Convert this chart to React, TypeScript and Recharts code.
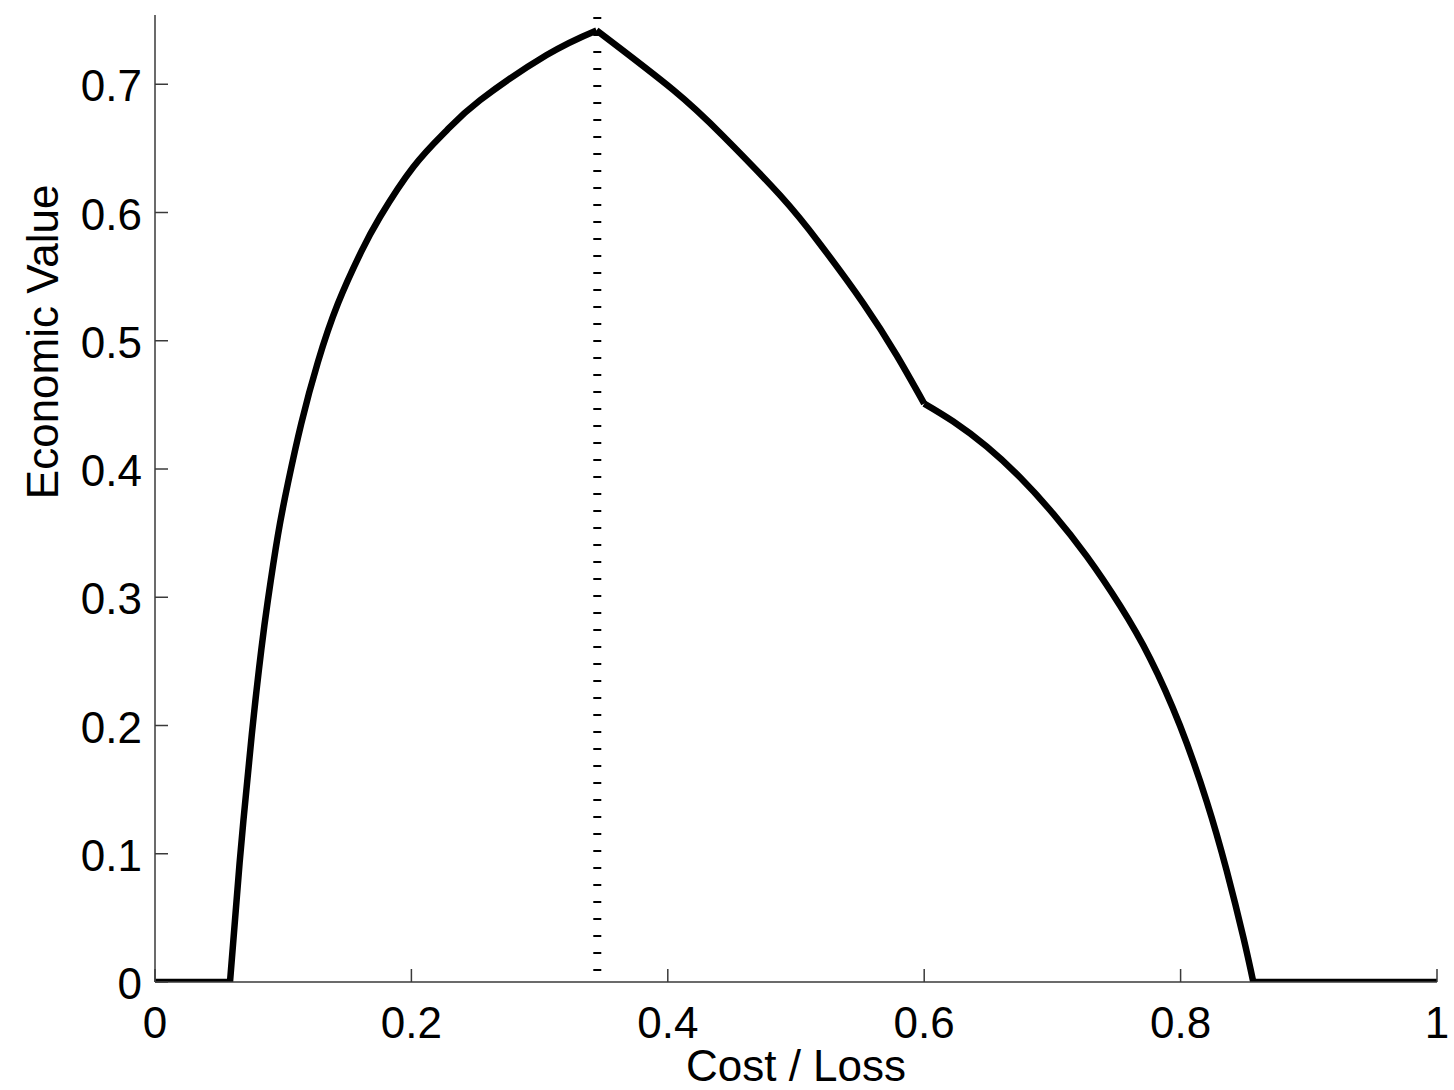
import React from 'react';
import { LineChart, Line, XAxis, YAxis, ReferenceLine } from 'recharts';

// Cost/Loss ratio (x) and economic value (y)
const zeroLeftX = [0, 0.0585];
const zeroLeftV = [0, 0];

const riseX = [0.0585, 0.066, 0.0755, 0.0829, 0.0881, 0.0959, 0.1037, 0.1141, 0.1271, 0.1427, 0.1609, 0.1755, 0.2015, 0.2275, 0.2535, 0.3055, 0.3444];
const riseV = [0, 0.093, 0.193, 0.259, 0.298, 0.3485, 0.389, 0.4355, 0.4835, 0.529, 0.5695, 0.5965, 0.6355, 0.664, 0.6875, 0.7228, 0.742];

const fallX = [0.3444, 0.4043, 0.4433, 0.4875, 0.5187, 0.5525, 0.5786, 0.6];
const fallV = [0.742, 0.6955, 0.6595, 0.6135, 0.5755, 0.5292, 0.4885, 0.451];

const tailX = [0.6, 0.6227, 0.6487, 0.6747, 0.7007, 0.7267, 0.7527, 0.7761, 0.7995, 0.8203, 0.8359, 0.8489, 0.8567];
const tailV = [0.451, 0.437, 0.4175, 0.3935, 0.365, 0.332, 0.2935, 0.2525, 0.2, 0.141, 0.087, 0.035, 0];

const zeroRightX = [0.8567, 1];
const zeroRightV = [0, 0];

const climateFrequency = 0.345;

const xTicks = [0, 0.2, 0.4, 0.6, 0.8, 1];
const yTicks = [0, 0.1, 0.2, 0.3, 0.4, 0.5, 0.6, 0.7];
const yMax = 0.754;

const toRows = (xs: number[], vs: number[]) => xs.map((x, i) => ({ x, v: vs[i] }));

const FONT = '"Liberation Sans", Arial, Helvetica, sans-serif';
const AXIS_COLOR = '#3a3a3a';

const XTick = (props: any) => {
  const { x, y, payload } = props;
  return (
    <g>
      <line x1={x} x2={x} y1={y} y2={y - 13} stroke={AXIS_COLOR} strokeWidth={1.5} />
      <text x={x} y={y + 56} textAnchor="middle" fontSize={44} fontFamily={FONT} fill="#000">
        {String(payload.value)}
      </text>
    </g>
  );
};

const YTick = (props: any) => {
  const { x, y, payload } = props;
  return (
    <g>
      <line x1={x} x2={x + 13} y1={y} y2={y} stroke={AXIS_COLOR} strokeWidth={1.5} />
      <text x={x - 13} y={y + 17} textAnchor="end" fontSize={44} fontFamily={FONT} fill="#000">
        {String(payload.value)}
      </text>
    </g>
  );
};

const YLabel = (props: any) => {
  const vb = props.viewBox || { x: 0, y: 15, width: 155, height: 967 };
  const cx = vb.x + 58;
  const cy = vb.y + vb.height * 0.338;
  return (
    <text
      x={cx}
      y={cy}
      transform={`rotate(-90, ${cx}, ${cy})`}
      textAnchor="middle"
      fontSize={44}
      fontFamily={FONT}
      fill="#000"
    >
      Economic Value
    </text>
  );
};

const XLabel = (props: any) => {
  const vb = props.viewBox || { x: 155, y: 982, width: 1282, height: 108 };
  return (
    <text
      x={vb.x + vb.width / 2}
      y={vb.y + 99}
      textAnchor="middle"
      fontSize={44}
      fontFamily={FONT}
      fill="#000"
    >
      Cost / Loss
    </text>
  );
};

export default function App() {
  const lineProps = {
    dataKey: 'v',
    stroke: '#000',
    strokeWidth: 6.5,
    dot: false,
    activeDot: false,
    isAnimationActive: false,
    strokeLinejoin: 'miter' as const,
  };
  return (
    <div style={{ position: 'absolute', left: 0, top: 0, background: '#fff' }}>
      <LineChart width={1454} height={1090} margin={{ top: 15, right: 17, bottom: 0, left: 0 }}>
        <XAxis
          type="number"
          dataKey="x"
          domain={[0, 1]}
          ticks={xTicks}
          height={108}
          tickSize={0}
          tickMargin={0}
          tickLine={false}
          axisLine={{ stroke: AXIS_COLOR, strokeWidth: 1.5 }}
          tick={<XTick />}
          interval={0}
          allowDataOverflow
          label={<XLabel />}
        />
        <YAxis
          type="number"
          domain={[0, yMax]}
          ticks={yTicks}
          width={155}
          tickSize={0}
          tickMargin={0}
          tickLine={false}
          axisLine={{ stroke: AXIS_COLOR, strokeWidth: 1.5 }}
          tick={<YTick />}
          interval={0}
          allowDataOverflow
          label={<YLabel />}
        />
        <ReferenceLine
          segment={[
            { x: climateFrequency, y: yMax },
            { x: climateFrequency, y: 0 },
          ]}
          stroke="#000"
          strokeWidth={8}
          strokeDasharray="2 15"
          strokeDashoffset={-2}
        />
        <Line {...lineProps} data={toRows(zeroLeftX, zeroLeftV)} type="linear" />
        <Line {...lineProps} data={toRows(riseX, riseV)} type="natural" />
        <Line {...lineProps} data={toRows(fallX, fallV)} type="natural" />
        <Line {...lineProps} data={toRows(tailX, tailV)} type="natural" />
        <Line {...lineProps} data={toRows(zeroRightX, zeroRightV)} type="linear" />
      </LineChart>
    </div>
  );
}
